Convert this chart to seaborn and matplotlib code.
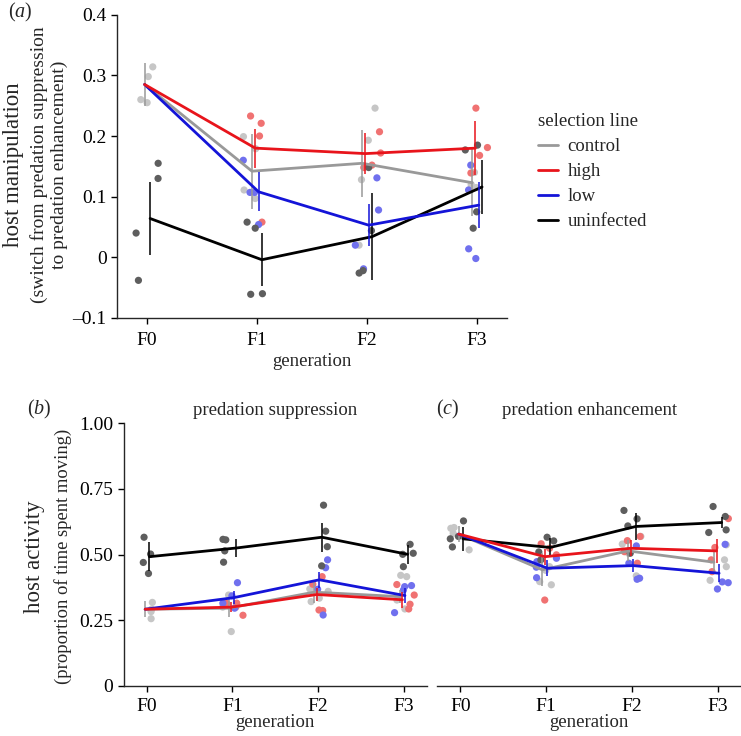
import numpy as np
import pandas as pd
import seaborn as sns
import matplotlib
matplotlib.use("Agg")
import matplotlib.pyplot as plt
from matplotlib.lines import Line2D
from matplotlib.ticker import FuncFormatter

gens = ["F0", "F1", "F2", "F3"]
lines = ["control", "high", "low", "uninfected"]

# ---- panel (a): host manipulation, replicate points per generation
manip_control = [[0.298, 0.314, 0.260, 0.255], [0.111, 0.097, 0.199, 0.179],
                 [0.193, 0.246, 0.128, 0.020], [0.140, 0.115, 0.113, 0.120]]
manip_high = [[], [0.221, 0.233, 0.058, 0.200],
              [0.148, 0.207, 0.172, 0.152], [0.246, 0.181, 0.168, 0.139]]
manip_low = [[], [0.160, 0.054, 0.107, 0.107],
             [0.078, 0.131, -0.019, 0.020], [0.152, -0.002, 0.014, 0.111]]
manip_uninf = [[0.130, 0.155, 0.040, -0.038], [-0.061, -0.060, 0.048, 0.058],
               [0.044, 0.148, -0.022, -0.026], [0.185, 0.177, 0.075, 0.048]]

manip_mean = {"control": [0.285, 0.142, 0.155, 0.123],
              "high": [0.285, 0.180, 0.171, 0.180],
              "low": [0.285, 0.108, 0.053, 0.086],
              "uninfected": [0.064, -0.004, 0.034, 0.116]}
manip_err = {"control": [0.035, 0.062, 0.055, 0.055],
             "high": [np.nan, 0.032, 0.034, 0.044],
             "low": [np.nan, 0.032, 0.035, 0.038],
             "uninfected": [0.060, 0.044, 0.072, 0.045]}

# ---- panel (b): activity under predation suppression
supp_control = [[0.292, 0.318, 0.256, 0.283], [0.346, 0.207, 0.300, 0.310],
                [0.369, 0.334, 0.321, 0.360], [0.416, 0.421, 0.293, 0.327]]
supp_high = [[], [0.269, 0.315, 0.315, 0.300],
             [0.416, 0.289, 0.287, 0.387], [0.386, 0.293, 0.311, 0.346]]
supp_low = [[], [0.393, 0.343, 0.296, 0.315],
            [0.480, 0.450, 0.270, 0.368], [0.382, 0.378, 0.279, 0.365]]
supp_uninf = [[0.566, 0.502, 0.470, 0.428], [0.558, 0.556, 0.514, 0.471],
              [0.589, 0.688, 0.457, 0.530], [0.505, 0.539, 0.454, 0.501]]

supp_mean = {"control": [0.292, 0.296, 0.357, 0.340],
             "high": [0.292, 0.300, 0.348, 0.328],
             "low": [0.292, 0.336, 0.404, 0.344],
             "uninfected": [0.492, 0.525, 0.566, 0.501]}
supp_err = {"control": [0.030, 0.035, 0.040, 0.025],
            "high": [np.nan, 0.020, 0.025, 0.030],
            "low": [np.nan, 0.025, 0.030, 0.030],
            "uninfected": [0.055, 0.033, 0.055, 0.035]}

# ---- panel (c): activity under predation enhancement
enh_control = [[0.603, 0.581, 0.600, 0.518], [0.397, 0.385, 0.454, 0.440],
               [0.419, 0.569, 0.505, 0.540], [0.537, 0.402, 0.454, 0.480]]
enh_high = [[], [0.541, 0.524, 0.499, 0.327],
            [0.569, 0.553, 0.467, 0.511], [0.637, 0.527, 0.480, 0.435]]
enh_low = [[], [0.412, 0.452, 0.473, 0.486],
           [0.533, 0.410, 0.406, 0.467], [0.539, 0.393, 0.396, 0.369]]
enh_uninf = [[0.628, 0.529, 0.569, 0.560], [0.566, 0.552, 0.510, 0.480],
             [0.636, 0.668, 0.609, 0.505], [0.683, 0.645, 0.594, 0.584]]

enh_mean = {"control": [0.578, 0.442, 0.514, 0.471],
            "high": [0.578, 0.492, 0.524, 0.514],
            "low": [0.578, 0.448, 0.458, 0.429],
            "uninfected": [0.560, 0.527, 0.607, 0.622]}
enh_err = {"control": [0.030, 0.063, 0.040, 0.040],
           "high": [np.nan, 0.030, 0.030, 0.045],
           "low": [np.nan, 0.030, 0.025, 0.035],
           "uninfected": [0.045, 0.035, 0.050, 0.020]}

line_col = {"control": "#999999", "high": "#e8141b", "low": "#1414d8", "uninfected": "#000000"}
pt_col = {"control": "#c6c6c6", "high": "#f07272", "low": "#7070ee", "uninfected": "#5e5e5e"}
dodge = {"control": -0.045, "high": -0.015, "low": 0.015, "uninfected": 0.045}


def long_df(ctrl, high, low, uninf):
    rows = []
    for name, groups in zip(lines, [ctrl, high, low, uninf]):
        for g, vals in zip(gens, groups):
            for v in vals:
                rows.append({"generation": g, "line": name, "value": v})
    return pd.DataFrame(rows)


def draw_panel(ax, df, means, errs):
    sns.stripplot(data=df, x="generation", y="value", hue="line", order=gens,
                  hue_order=lines, palette=pt_col, jitter=0.13, size=5.2,
                  linewidth=0, legend=False, ax=ax, zorder=1)
    for name in ["control", "uninfected", "low", "high"]:
        x = np.arange(len(gens)) + dodge[name]
        x[0] = 0.03 if name == "uninfected" else -0.02
        m = np.array(means[name])
        e = np.array(errs[name])
        sns.lineplot(x=x, y=m, color=line_col[name], lw=2.0, ax=ax,
                     estimator=None, sort=False, zorder=3)
        ok = ~np.isnan(e)
        ax.vlines(x[ok], (m - e)[ok], (m + e)[ok], color=line_col[name],
                  lw=1.1, zorder=3)


np.random.seed(3)
sns.set_style("ticks")
plt.rcParams["font.family"] = ["Liberation Serif", "DejaVu Serif"]
plt.rcParams["mathtext.fontset"] = "custom"
plt.rcParams["mathtext.rm"] = "Liberation Serif"
plt.rcParams["mathtext.it"] = "Liberation Serif:italic"
plt.rcParams["axes.linewidth"] = 1.0

fig = plt.figure(figsize=(7.41, 7.36), dpi=100)
ax_a = fig.add_axes([0.158, 0.568, 0.526, 0.412])
ax_b = fig.add_axes([0.167, 0.068, 0.409, 0.357])
ax_c = fig.add_axes([0.590, 0.068, 0.410, 0.357], sharey=ax_b)

draw_panel(ax_a, long_df(manip_control, manip_high, manip_low, manip_uninf),
           manip_mean, manip_err)
draw_panel(ax_b, long_df(supp_control, supp_high, supp_low, supp_uninf),
           supp_mean, supp_err)
draw_panel(ax_c, long_df(enh_control, enh_high, enh_low, enh_uninf),
           enh_mean, enh_err)

fmt = FuncFormatter(lambda v, p: "0" if abs(v) < 1e-9 else
                    (f"{v:.1f}".replace("-", "\u2013")))
ax_a.set_ylim(-0.1, 0.4)
ax_a.set_yticks([-0.1, 0, 0.1, 0.2, 0.3, 0.4])
ax_a.yaxis.set_major_formatter(fmt)

fmt2 = FuncFormatter(lambda v, p: "0" if abs(v) < 1e-9 else f"{v:.2f}")
ax_b.set_ylim(0, 1.0)
ax_b.set_yticks([0, 0.25, 0.5, 0.75, 1.0])
ax_b.yaxis.set_major_formatter(fmt2)

for ax in (ax_a, ax_b, ax_c):
    ax.set_xlim(-0.27, 3.27)
    ax.set_xticks(range(4))
    ax.set_xticklabels(gens)
    ax.set_ylabel("")
    ax.tick_params(labelsize=14, length=4, width=1, colors="black")
    sns.despine(ax=ax)

ax_a.tick_params(axis="x", pad=6)
ax_a.set_xlabel("generation", fontsize=13.5, labelpad=3)
for ax in (ax_b, ax_c):
    ax.tick_params(axis="x", pad=5)
    ax.set_xlabel("generation", fontsize=13.5, labelpad=-1)

sns.despine(ax=ax_c, left=True)
ax_c.tick_params(axis="y", left=False, labelleft=False)

ax_b.set_title("predation suppression", fontsize=13.5, pad=6)
ax_c.set_title("predation enhancement", fontsize=13.5, pad=6)

# y-axis labels
fig.text(0.018, 0.776, "host manipulation", rotation=90, fontsize=16.5,
         ha="center", va="center")
fig.text(0.066, 0.776, "(switch from predation suppression\nto predation enhancement)",
         rotation=90, fontsize=14, ha="center", va="center", linespacing=1.18)
fig.text(0.047, 0.244, "host activity", rotation=90, fontsize=16.5,
         ha="center", va="center")
fig.text(0.085, 0.244, "(proportion of time spent moving)", rotation=90,
         fontsize=13.4, ha="center", va="center")

# panel letters
fig.text(0.011, 0.983, r"$\mathrm{(}a\mathrm{)}$", fontsize=14.5, va="center")
fig.text(0.036, 0.444, r"$\mathrm{(}b\mathrm{)}$", fontsize=14.5, va="center")
fig.text(0.589, 0.444, r"$\mathrm{(}c\mathrm{)}$", fontsize=14.5, va="center")

handles = [Line2D([0], [0], color=line_col[n], lw=2) for n in lines]
leg = ax_a.legend(handles, lines, title="selection line", loc="upper left",
                  bbox_to_anchor=(1.06, 0.70), frameon=False, fontsize=13.5,
                  title_fontsize=13.5, handlelength=1.1, handletextpad=0.5,
                  labelspacing=0.42, borderaxespad=0, alignment="left")

fig.savefig("out.png", dpi=100)
